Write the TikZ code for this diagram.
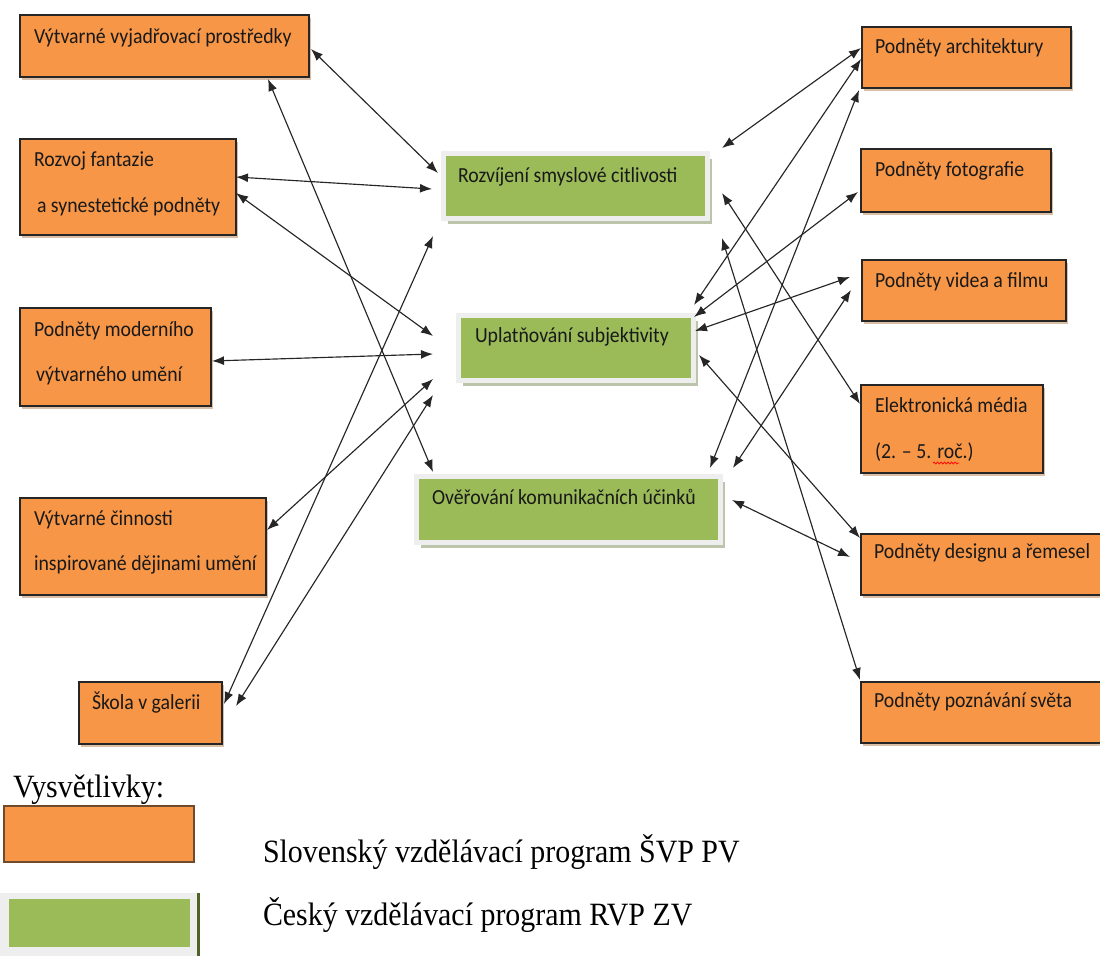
\documentclass[tikz,border=0pt]{standalone}
\usepackage{fontspec}
\setmainfont{Carlito}
\newfontfamily\boxfont[FakeStretch=0.92]{Carlito}
\newfontfamily\tnr[FakeStretch=0.92]{Liberation Serif}
\usetikzlibrary{arrows.meta,shadows,decorations.pathmorphing}
\definecolor{orng}{HTML}{F79646}
\definecolor{grn}{HTML}{9BBB59}
\definecolor{oshadow}{RGB}{218,190,165}
\definecolor{gshadow}{RGB}{188,196,172}
\definecolor{gframe}{HTML}{EEEEEE}
\definecolor{dkgreen}{HTML}{4F6228}
\definecolor{lborder}{RGB}{110,75,45}
\definecolor{txtc}{RGB}{25,25,25}
\begin{document}
\begin{tikzpicture}[x=1pt,y=-1pt,
  obox/.style={draw=black!85, line width=1.3pt, fill=orng, inner sep=0pt, outer sep=0pt, anchor=north west,
    drop shadow={shadow xshift=2pt, shadow yshift=-2.5pt, fill=oshadow, opacity=1}},
  gbox/.style={draw=gframe, line width=5pt, fill=grn, inner sep=0pt, outer sep=0pt, anchor=north west,
    drop shadow={shadow xshift=4pt, shadow yshift=-5pt, fill=gshadow, opacity=1}},
  txt/.style={anchor=base west, inner sep=0pt, outer sep=0pt, text=txtc, font=\boxfont\fontsize{21.5}{24}\selectfont},
  ltxt/.style={anchor=base west, inner sep=0pt, outer sep=0pt, font=\tnr\fontsize{32.5}{35}\selectfont},
  arr/.style={{Latex[length=12pt,width=9pt]}-{Latex[length=12pt,width=9pt]}, line width=1.15pt, black!85}
]
\useasboundingbox (0,0) rectangle (1100,956);
\clip (0,0) rectangle (1100,956);

% left orange boxes
\node[obox, minimum width=289pt, minimum height=62pt] (b1) at (20,15) {};
\node[obox, minimum width=216pt, minimum height=96pt] (b2) at (20,139) {};
\node[obox, minimum width=191pt, minimum height=98pt] (b3) at (20,308) {};
\node[obox, minimum width=246pt, minimum height=97pt] (b4) at (20,498) {};
\node[obox, minimum width=143pt, minimum height=62pt] (b5) at (79,682) {};

% right orange boxes
\node[obox, minimum width=209pt, minimum height=61pt] (r1) at (862,27) {};
\node[obox, minimum width=190pt, minimum height=63pt] (r2) at (861,149) {};
\node[obox, minimum width=204pt, minimum height=61pt] (r3) at (862,260) {};
\node[obox, minimum width=182pt, minimum height=88pt] (r4) at (861,385) {};
\node[obox, minimum width=260pt, minimum height=61pt] (r5) at (861,534) {};
\node[obox, minimum width=260pt, minimum height=61pt] (r6) at (861,682) {};

% green boxes
\node[gbox, minimum width=264pt, minimum height=65pt] (g1) at (443.5,153.5) {};
\node[gbox, minimum width=235pt, minimum height=65pt] (g2) at (458.5,315.5) {};
\node[gbox, minimum width=304pt, minimum height=66pt] (g3) at (416.5,476.5) {};

% texts
\node[txt] (tb1) at (34,43) {Výtvarné vyjadřovací prostředky};
\node[txt] (tb2a) at (34,166) {Rozvoj fantazie};
\node[txt] (tb2b) at (37,212) {a synestetické podněty};
\node[txt] (tb3a) at (34,336) {Podněty moderního};
\node[txt] (tb3b) at (36,381) {výtvarného umění};
\node[txt] (tb4a) at (34,525) {Výtvarné činnosti};
\node[txt] (tb4b) at (34,570) {inspirované dějinami umění};
\node[txt] (tb5) at (92,709) {Škola v galerii};

\node[txt] (tg1) at (458,182) {Rozvíjení smyslové citlivosti};
\node[txt] (tg2) at (475,342) {Uplatňování subjektivity};
\node[txt] (tg3) at (432,504) {Ověřování komunikačních účinků};

\node[txt] (tr1) at (875,53) {Podněty architektury};
\node[txt] (tr2) at (875,176) {Podněty fotografie};
\node[txt] (tr3) at (875,287) {Podněty videa a filmu};
\node[txt] (tr4a) at (875,412) {Elektronická média};
\node[txt] (tr4b) at (875,458) {(2. – 5. roč.)};
\node[txt] (tr5) at (874,558) {Podněty designu a řemesel};
\node[txt] (tr6) at (874,707) {Podněty poznávání světa};
\draw[red, line width=0.7pt, decorate, decoration={snake, amplitude=1pt, segment length=3.5pt}] (933,463) -- (959,463);

% left connectors
\draw[arr] ([shift={(291,34)}]b1.north west) -- ([shift={(-5.5,19.5)}]g1.north west);
\draw[arr] ([shift={(216,38)}]b2.north west) -- ([shift={(-11.5,35.5)}]g1.north west);
\draw[arr] ([shift={(216,54)}]b2.north west) -- ([shift={(-25.5,20.5)}]g2.north west);
\draw[arr] ([shift={(248,64)}]b1.north west) -- ([shift={(16.5,-4.5)}]g3.north west);
\draw[arr] ([shift={(192,53)}]b3.north west) -- ([shift={(-25.5,38.5)}]g2.north west);
\draw[arr] ([shift={(247,32)}]b4.north west) -- ([shift={(-25.5,63.5)}]g2.north west);
\draw[arr] ([shift={(145,22)}]b5.north west) -- ([shift={(-10.5,82.5)}]g1.north west);
\draw[arr] ([shift={(157,24)}]b5.north west) -- ([shift={(-25.5,79.5)}]g2.north west);

% right connectors
\draw[arr] ([shift={(278.5,-5.5)}]g1.north west) -- ([shift={(-1,21)}]r1.north west);
\draw[arr] ([shift={(235.5,-10.5)}]g2.north west) -- ([shift={(-1,32)}]r1.north west);
\draw[arr] ([shift={(293.5,-8.5)}]g3.north west) -- ([shift={(-3,63)}]r1.north west);
\draw[arr] ([shift={(235.5,1.5)}]g2.north west) -- ([shift={(-3,43)}]r2.north west);
\draw[arr] ([shift={(236.5,15.5)}]g2.north west) -- ([shift={(-12,17)}]r3.north west);
\draw[arr] ([shift={(316.5,-8.5)}]g3.north west) -- ([shift={(-11,30)}]r3.north west);
\draw[arr] ([shift={(278.5,39.5)}]g1.north west) -- ([shift={(-1,19)}]r4.north west);
\draw[arr] ([shift={(278.5,84.5)}]g1.north west) -- ([shift={(-1,-2)}]r6.north west);
\draw[arr] ([shift={(240.5,39.5)}]g2.north west) -- ([shift={(-1,4)}]r5.north west);
\draw[arr] ([shift={(315.5,23.5)}]g3.north west) -- ([shift={(-11,23)}]r5.north west);

% legend
\node[ltxt] (leg) at (13,797) {Vysvětlivky:};
\node[draw=lborder, line width=1.2pt, fill=orng, minimum width=190pt, minimum height=56pt, anchor=north west, inner sep=0pt, outer sep=0pt] (lo) at (4,806) {};
\node[ltxt] (lot) at (263,862) {Slovenský vzdělávací program ŠVP PV};
\node[fill=gframe, minimum width=197pt, minimum height=63pt, anchor=north west, inner sep=0pt, outer sep=0pt] (lgf) at (0,893) {};
\node[fill=grn, minimum width=181pt, minimum height=48pt, anchor=north west, inner sep=0pt, outer sep=0pt] (lgi) at (9,899) {};
\draw[dkgreen, line width=2.5pt] ([xshift=1.5pt]lgf.north east) -- ([xshift=1.5pt]lgf.south east);
\node[ltxt] (lgt) at (263,925) {Český vzdělávací program RVP ZV};
\end{tikzpicture}
\end{document}
